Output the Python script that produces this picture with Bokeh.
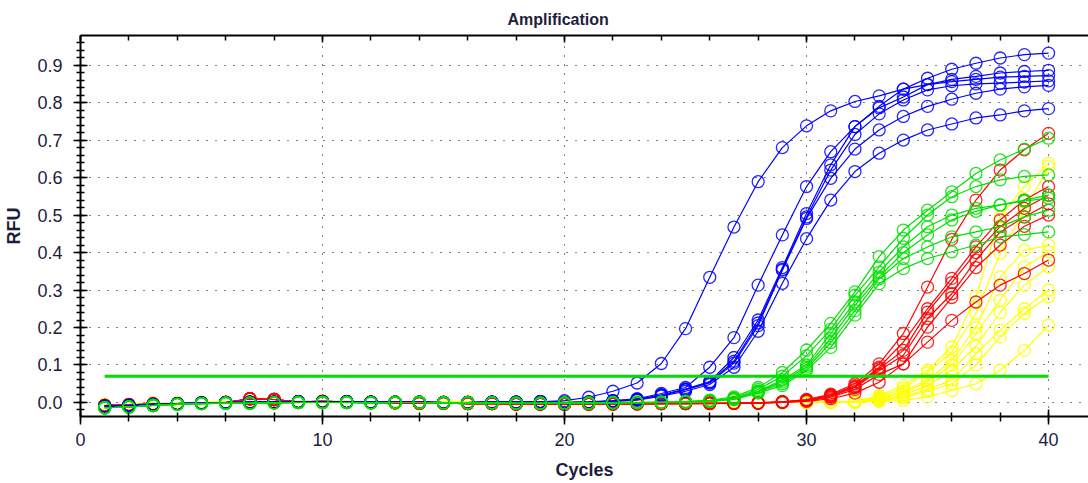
from bokeh.plotting import figure
from bokeh.models import Range1d, SingleIntervalTicker, LinearAxis, Grid, Title, NumeralTickFormatter
from bokeh.embed import file_html
from bokeh.resources import INLINE

# ---------------- data ----------------
cycles = list(range(1, 41))
threshold = 0.07
x_ticks_interval = 10
y_ticks_interval = 0.1

# shared baselines, cycles 1..19
blue_base = [-0.010, -0.008, -0.005, -0.003, -0.001, 0.000, 0.001, 0.001, 0.002, 0.002,
             0.002, 0.001, 0.001, 0.001, 0.000, 0.000, 0.001, 0.001, 0.002]
green_base = [-0.014, -0.012, -0.008, -0.005, -0.003, -0.002, -0.002, -0.001, 0.000, 0.000,
              0.000, -0.001, 0.000, 0.000, -0.001, -0.001, -0.001, -0.002, -0.002]
red_base = [-0.008, -0.006, -0.004, -0.003, -0.002, 0.000, 0.010, 0.008, 0.002, 0.003,
            0.002, 0.000, -0.001, -0.002, -0.002, -0.003, -0.003, -0.004, -0.004]
yellow_base = [-0.006, -0.005, -0.002, -0.001, 0.000, 0.001, 0.002, 0.002, 0.003, 0.004,
               0.003, 0.002, 0.002, 0.001, 0.001, 0.001, 0.000, 0.001, 0.002]

# individual curves, cycles 20..40
blue_1 = [0.005, 0.014, 0.030, 0.052, 0.104, 0.197, 0.334, 0.468, 0.589, 0.680, 0.738,
          0.778, 0.803, 0.818, 0.836, 0.848, 0.856, 0.862, 0.868, 0.870, 0.872]
blue_2 = [0.000, 0.002, 0.005, 0.010, 0.024, 0.040, 0.094, 0.173, 0.313, 0.447, 0.576,
          0.669, 0.736, 0.790, 0.836, 0.865, 0.889, 0.905, 0.919, 0.928, 0.932]
blue_3 = [0.000, 0.001, 0.004, 0.008, 0.020, 0.036, 0.056, 0.120, 0.220, 0.360, 0.504,
          0.634, 0.736, 0.786, 0.815, 0.848, 0.862, 0.870, 0.879, 0.883, 0.886]
blue_4 = [0.000, 0.001, 0.004, 0.008, 0.019, 0.034, 0.052, 0.105, 0.205, 0.353, 0.491,
          0.598, 0.676, 0.727, 0.763, 0.790, 0.809, 0.825, 0.836, 0.842, 0.846]
blue_5 = [0.000, 0.000, 0.003, 0.006, 0.017, 0.030, 0.048, 0.094, 0.190, 0.318, 0.437,
          0.540, 0.616, 0.665, 0.700, 0.727, 0.743, 0.759, 0.767, 0.778, 0.784]
blue_6 = [0.000, 0.001, 0.004, 0.008, 0.020, 0.035, 0.054, 0.110, 0.212, 0.355, 0.495,
          0.620, 0.715, 0.770, 0.807, 0.834, 0.845, 0.850, 0.852, 0.855, 0.858]

green_1 = [-0.001, -0.001, 0.000, 0.000, 0.001, 0.003, 0.006, 0.015, 0.040, 0.080, 0.140,
           0.211, 0.295, 0.389, 0.460, 0.513, 0.562, 0.611, 0.647, 0.676, 0.705]
green_2 = [-0.001, -0.001, 0.000, 0.000, 0.001, 0.002, 0.005, 0.012, 0.035, 0.070, 0.125,
           0.195, 0.286, 0.362, 0.438, 0.500, 0.549, 0.576, 0.594, 0.603, 0.607]
green_3 = [-0.002, -0.001, -0.001, 0.000, 0.000, 0.002, 0.004, 0.010, 0.030, 0.060, 0.100,
           0.184, 0.268, 0.348, 0.415, 0.469, 0.500, 0.518, 0.527, 0.540, 0.553]
green_4 = [-0.002, -0.001, -0.001, 0.000, 0.000, 0.001, 0.004, 0.010, 0.030, 0.055, 0.095,
           0.171, 0.259, 0.335, 0.400, 0.447, 0.487, 0.510, 0.527, 0.537, 0.545]
green_5 = [-0.002, -0.002, -0.001, -0.001, 0.000, 0.001, 0.003, 0.008, 0.028, 0.050, 0.090,
           0.160, 0.245, 0.330, 0.384, 0.415, 0.442, 0.455, 0.469, 0.495, 0.513]
green_6 = [-0.002, -0.002, -0.001, -0.001, 0.000, 0.001, 0.003, 0.008, 0.025, 0.045, 0.085,
           0.147, 0.233, 0.317, 0.357, 0.384, 0.402, 0.420, 0.442, 0.448, 0.455]

red_1 = [-0.004, -0.004, -0.003, -0.003, -0.003, -0.002, -0.002, -0.002, -0.001, 0.002, 0.008,
         0.022, 0.050, 0.103, 0.184, 0.308, 0.435, 0.540, 0.620, 0.674, 0.718]
red_2 = [-0.004, -0.004, -0.003, -0.003, -0.003, -0.002, -0.002, -0.002, -0.001, 0.002, 0.007,
         0.020, 0.045, 0.094, 0.161, 0.250, 0.331, 0.415, 0.487, 0.540, 0.576]
red_3 = [-0.004, -0.004, -0.004, -0.003, -0.003, -0.003, -0.002, -0.002, -0.001, 0.001, 0.006,
         0.018, 0.042, 0.090, 0.139, 0.241, 0.320, 0.400, 0.469, 0.518, 0.553]
red_4 = [-0.004, -0.004, -0.004, -0.003, -0.003, -0.003, -0.002, -0.002, -0.001, 0.001, 0.005,
         0.016, 0.040, 0.085, 0.126, 0.224, 0.290, 0.380, 0.455, 0.495, 0.530]
red_5 = [-0.005, -0.004, -0.004, -0.004, -0.003, -0.003, -0.003, -0.002, -0.002, 0.001, 0.004,
         0.014, 0.035, 0.075, 0.103, 0.201, 0.280, 0.360, 0.420, 0.470, 0.500]
red_6 = [-0.005, -0.004, -0.004, -0.004, -0.003, -0.003, -0.003, -0.002, -0.002, 0.000, 0.003,
         0.010, 0.025, 0.054, 0.103, 0.161, 0.219, 0.268, 0.313, 0.344, 0.380]

yellow_1 = [0.002, 0.002, 0.001, 0.001, 0.000, 0.000, 0.000, 0.000, 0.000, 0.000, 0.001,
            0.002, 0.004, 0.018, 0.045, 0.086, 0.148, 0.282, 0.495, 0.576, 0.638]
yellow_2 = [0.002, 0.002, 0.001, 0.001, 0.000, 0.000, 0.000, 0.000, 0.000, 0.000, 0.001,
            0.002, 0.003, 0.015, 0.038, 0.080, 0.135, 0.238, 0.398, 0.510, 0.629]
yellow_3 = [0.002, 0.001, 0.001, 0.001, 0.000, 0.000, 0.000, 0.000, 0.000, 0.000, 0.001,
            0.001, 0.002, 0.012, 0.030, 0.060, 0.112, 0.200, 0.335, 0.406, 0.420]
yellow_4 = [0.002, 0.001, 0.001, 0.000, 0.000, 0.000, 0.000, 0.000, 0.000, 0.000, 0.000,
            0.001, 0.002, 0.010, 0.025, 0.055, 0.100, 0.184, 0.273, 0.362, 0.402]
yellow_5 = [0.001, 0.001, 0.001, 0.000, 0.000, 0.000, 0.000, 0.000, 0.000, 0.000, 0.000,
            0.001, 0.001, 0.008, 0.020, 0.045, 0.086, 0.150, 0.240, 0.313, 0.362]
yellow_6 = [0.001, 0.001, 0.000, 0.000, 0.000, 0.000, 0.000, 0.000, 0.000, 0.000, 0.000,
            0.000, 0.001, 0.006, 0.015, 0.035, 0.059, 0.130, 0.193, 0.250, 0.300]
yellow_7 = [0.001, 0.001, 0.000, 0.000, 0.000, 0.000, 0.000, 0.000, 0.000, 0.000, 0.000,
            0.000, 0.000, 0.005, 0.012, 0.030, 0.050, 0.100, 0.175, 0.238, 0.282]
yellow_8 = [0.001, 0.000, 0.000, 0.000, 0.000, 0.000, 0.000, 0.000, 0.000, 0.000, 0.000,
            0.000, 0.000, 0.003, 0.005, 0.015, 0.032, 0.050, 0.086, 0.139, 0.206]

groups = [
    ("#FFFF00", yellow_base, [yellow_1, yellow_2, yellow_3, yellow_4, yellow_5, yellow_6, yellow_7, yellow_8]),
    ("#FF0000", red_base, [red_1, red_2, red_3, red_4, red_5, red_6]),
    ("#0000FF", blue_base, [blue_1, blue_2, blue_3, blue_4, blue_5, blue_6]),
    ("#00E000", green_base, [green_1, green_2, green_3, green_4, green_5, green_6]),
]

# ---------------- figure ----------------
FONT = "Liberation Sans"
TXT = "#1e1e3c"

p = figure(width=1088, height=483, output_backend="svg", toolbar_location=None,
           x_range=Range1d(0, 41.65), y_range=Range1d(-0.0374, 0.979),
           x_axis_type=None, y_axis_type=None,
           min_border_left=80, min_border_right=0, min_border_top=35, min_border_bottom=67)
p.outline_line_color = None
p.background_fill_color = "white"
p.border_fill_color = "white"

p.title = Title(text="Amplification", align="left", offset=427, standoff=16,
                text_font=FONT, text_font_size="16px", text_font_style="bold", text_color=TXT)

xt = SingleIntervalTicker(interval=x_ticks_interval, num_minor_ticks=5)
yt = SingleIntervalTicker(interval=y_ticks_interval, num_minor_ticks=5)

xaxis = LinearAxis(ticker=xt, axis_label="Cycles")
yaxis = LinearAxis(ticker=yt, axis_label="RFU", formatter=NumeralTickFormatter(format="0.0"))
top_axis = LinearAxis(ticker=xt)

for ax in (xaxis, yaxis, top_axis):
    ax.axis_line_color = "black"
    ax.axis_line_width = 2
    ax.major_tick_line_color = "black"
    ax.minor_tick_line_color = "black"
    ax.major_tick_line_width = 1.5
    ax.minor_tick_line_width = 1.5
    ax.major_label_text_font = FONT
    ax.major_label_text_font_size = "18px"
    ax.major_label_text_color = TXT
    ax.axis_label_text_font = FONT
    ax.axis_label_text_font_size = "18px"
    ax.axis_label_text_font_style = "bold"
    ax.axis_label_text_color = TXT

xaxis.major_tick_in = 7
xaxis.major_tick_out = 8
xaxis.minor_tick_in = 4
xaxis.minor_tick_out = 5
xaxis.major_label_standoff = 8
xaxis.axis_label_standoff = 11

yaxis.major_tick_in = 7
yaxis.major_tick_out = 7
yaxis.minor_tick_in = 4
yaxis.minor_tick_out = 4
yaxis.major_label_standoff = 11
yaxis.axis_label_standoff = 10

top_axis.major_tick_in = 7
top_axis.major_tick_out = 0
top_axis.minor_tick_in = 5
top_axis.minor_tick_out = 0
top_axis.major_label_standoff = 0
top_axis.major_label_text_font_size = "0px"
top_axis.major_label_text_alpha = 0

p.add_layout(xaxis, "below")
p.add_layout(yaxis, "left")
p.add_layout(top_axis, "above")

for dim, tk in ((0, xt), (1, yt)):
    g = Grid(dimension=dim, ticker=tk, grid_line_color="black", grid_line_dash="1 8",
             grid_line_width=1)
    p.add_layout(g)

for color, base, curves in groups:
    for tail in curves:
        ys = base + tail
        p.line(cycles, ys, line_color=color, line_width=1.2)
        p.scatter(cycles, ys, marker="circle", size=12, fill_color=None,
                  line_color=color, line_width=1.3, line_alpha=0.85)

p.line([cycles[0], cycles[-1]], [threshold, threshold], line_color="#00DD00", line_width=3)

open("out.html", "w").write(file_html(p, INLINE))
